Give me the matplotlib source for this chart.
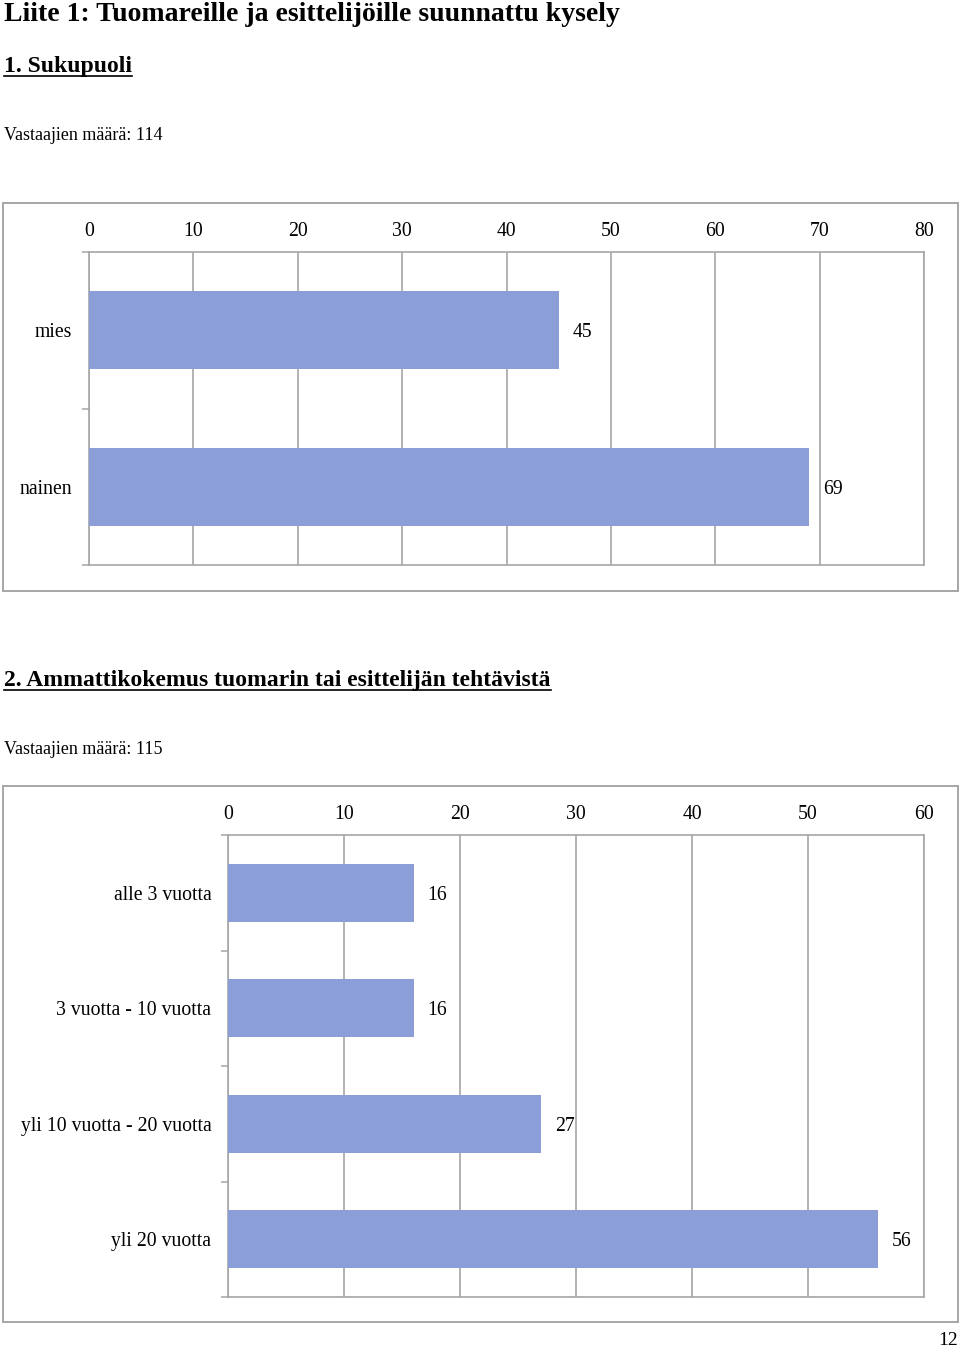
import matplotlib
matplotlib.use("Agg")
import matplotlib.pyplot as plt
from matplotlib.patches import Rectangle
from matplotlib.lines import Line2D

plt.rcParams['font.family'] = ['Liberation Serif', 'DejaVu Serif']

# ---- data ----
title_main = "Liite 1: Tuomareille ja esittelijöille suunnattu kysely"

q1_title = "1. Sukupuoli"
q1_n = "Vastaajien määrä: 114"
q1_categories = ["mies", "nainen"]
q1_values = [45, 69]
q1_ticks = [0, 10, 20, 30, 40, 50, 60, 70, 80]

q2_title = "2. Ammattikokemus tuomarin tai esittelijän tehtävistä"
q2_n = "Vastaajien määrä: 115"
q2_categories = ["alle 3 vuotta", "3 vuotta - 10 vuotta", "yli 10 vuotta - 20 vuotta", "yli 20 vuotta"]
q2_values = [16, 16, 27, 56]
q2_ticks = [0, 10, 20, 30, 40, 50, 60]

page_no = "12"

W, H = 960, 1349
BAR = "#8C9ED7"
GRID = "#A6A6A6"

fig = plt.figure(figsize=(W / 100, H / 100), dpi=100)


def fx(px):
    return px / W


def fy(py):
    return 1 - py / H


def box(x0, y0, x1, y1):
    fig.patches.append(Rectangle((fx(x0), fy(y1)), fx(x1) - fx(x0), fy(y0) - fy(y1),
                                 transform=fig.transFigure, fill=False,
                                 edgecolor=GRID, linewidth=1.4))


def chart(rect, cats, vals, ticks, label_fs=14.2):
    ax = fig.add_axes(rect)
    n = len(cats)
    pos = list(range(n))
    ax.barh(pos, vals, height=0.5, color=BAR, zorder=3)
    ax.set_xlim(ticks[0], ticks[-1])
    ax.set_ylim(n - 0.5, -0.5)
    ax.set_xticks(ticks)
    ax.xaxis.tick_top()
    ax.tick_params(axis='x', length=0, pad=8, labelsize=label_fs)
    ax.set_yticks(pos)
    ax.set_yticklabels(cats, va='center_baseline')
    ax.set_yticks([i - 0.5 for i in range(n + 1)], minor=True)
    ax.tick_params(axis='y', which='major', length=0, pad=12, labelsize=label_fs)
    ax.tick_params(axis='y', which='minor', length=5, width=1.1, color=GRID, direction='out')
    ax.grid(axis='x', color=GRID, linewidth=1.2, zorder=0)
    for s in ax.spines.values():
        s.set_color(GRID)
        s.set_linewidth(1.2)
    for p, v in zip(pos, vals):
        ax.annotate(str(v), (v, p), xytext=(10, 0), textcoords='offset points',
                    ha='left', va='center_baseline', fontsize=label_fs)
    return ax


def heading(x, y, s, fs):
    return fig.text(fx(x), fy(y), s, fontsize=fs, fontweight='bold', ha='left', va='top')


fig.text(fx(4), fy(2), title_main, fontsize=20, fontweight='bold', ha='left', va='top')
t1 = heading(4, 56, q1_title, 17)
fig.text(fx(4), fy(127), q1_n, fontsize=13, ha='left', va='top')
t2 = heading(4, 670, q2_title, 17)
fig.text(fx(4), fy(741), q2_n, fontsize=13, ha='left', va='top')
fig.text(fx(958), fy(1349), page_no, fontsize=14, ha='right', va='bottom')

box(3, 203, 958, 591)
box(3, 786, 958, 1322)

chart([fx(89), fy(565), fx(924) - fx(89), fy(252) - fy(565)], q1_categories, q1_values, q1_ticks)
chart([fx(228), fy(1297), fx(924) - fx(228), fy(835) - fy(1297)], q2_categories, q2_values, q2_ticks)

# underline headings
fig.canvas.draw()
r = fig.canvas.get_renderer()
for t in (t1, t2):
    bb = t.get_window_extent(renderer=r).transformed(fig.transFigure.inverted())
    yline = bb.y0 + 0.0005
    fig.lines.append(Line2D([bb.x0, bb.x1], [yline, yline], transform=fig.transFigure,
                            color='black', linewidth=1.2))

fig.savefig("out.png", dpi=100)
